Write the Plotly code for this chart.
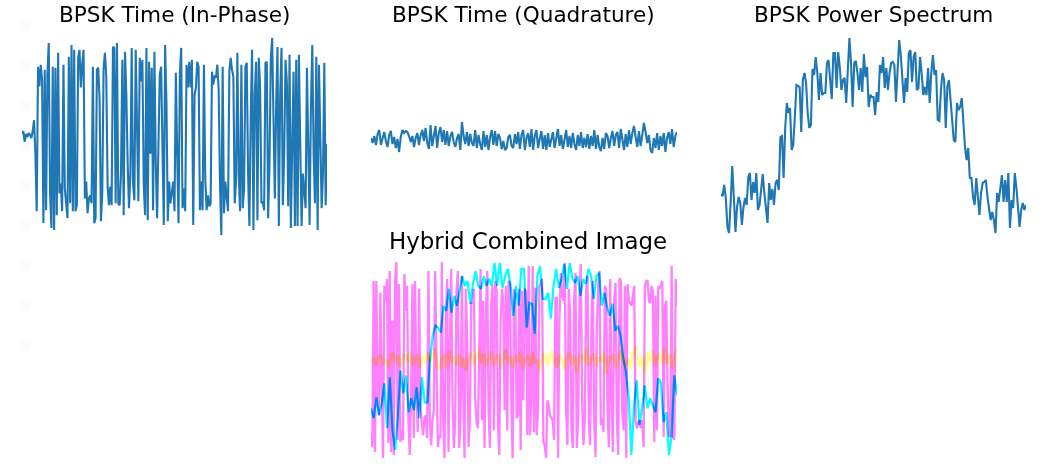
import plotly.graph_objects as go

WIDTH = 1047
HEIGHT = 466

TITLES = [
    "BPSK Time (In-Phase)",
    "BPSK Time (Quadrature)",
    "BPSK Power Spectrum",
    "Hybrid Combined Image",
]

in_phase = [
    0, 3, -8, 0, -3, 1, -1, -4, 3, 14, -20, -78, 68, 48, 70, 55, -90, 65, -77, 60,
    92, -60, -95, 68, -97, 67, -82, 82, -60, -50, -78, 70, -55, -75, -85, 78, -70, 90, -78, 85,
    -78, -72, 77, 85, 47, 70, 85, -65, -48, -80, -65, -62, -70, 68, -90, -85, 65, 67, 35, -88,
    -60, 67, 82, 58, -53, -72, -53, -72, 88, 87, -70, 92, -70, -72, -40, 75, -82, 83, 40, -30,
    -75, -40, 87, -50, -67, 85, -10, -68, 77, 53, 75, -50, -82, 87, -87, 73, -20, 67, -77, 83,
    -30, -85, -10, 60, 68, -40, -92, 90, 30, -88, -48, -70, -55, -48, -78, 62, -20, -90, 60, 87,
    -75, -55, -78, 70, 47, 73, 47, 75, -92, 40, 47, 73, 68, -77, -48, -77, 70, -45, -77, -62,
    -73, -70, 63, 50, 58, 57, 70, 45, -50, -102, 68, -80, -48, -60, -78, 63, 77, 65, 58, -70,
    -48, 82, -40, -78, 70, -75, -55, 68, 72, -40, -93, 20, 85, -97, 40, 73, -87, 77, 48, -70,
    -68, -77, 72, 73, -85, -30, 77, 97, 10, -65, 30, 88, -93, 40, 87, -72, -20, 75, 52, -73,
    80, -95, -10, 63, -93, 75, -93, 80, -10, -93, -40, -58, -75, 67, -20, -92, 30, 90, -20, -70,
    78, -97, 70, -30, -75, -40, 72, -72, -10,
]

quadrature = [
    -3, -8, -1, -10, 1, 5, -10, -2, 3, -6, -12, 0, 4, -9, -2, -13, -4, -17, -2, 5,
    2, 4, 3, -1, -7, -1, -12, -3, 2, -10, 0, 5, -6, 7, -8, -14, 10, -11, -1, 9,
    -13, 2, 8, -7, 5, -10, 4, -11, -1, 3, -7, -12, -3, 1, -15, 13, -1, -9, 3, -11,
    1, -8, -11, 5, -13, 0, -9, -15, 4, -12, 0, -15, -2, 5, -10, 4, -11, 1, -3, -14,
    -6, -15, -13, -2, 0, -11, -13, 1, -9, 3, -14, 0, 5, -15, -3, 2, -12, 6, -15, -1,
    5, -13, -4, 4, -14, 0, -15, 2, -12, -3, 3, -13, -1, 6, -11, 0, -14, -3, 5, -12,
    -1, -13, 2, -9, -15, 0, -11, 3, -13, -3, -12, 1, -14, -1, -11, 5, -14, 0, -12, -16,
    -3, -14, 2, -1, -13, -3, 4, -11, 0, 3, -13, 6, -3, -15, 1, -12, 5, -9, 2, 9,
    -2, -12, 4, -11, 0, 12, 3, -8, 0, -15, -18, -3, -13, 2, -15, -1, -11, 2, -17, -3,
    3, -9, 6, -12, -1, 3,
]

spectrum = [
    -59, -61, -50, -63, -92, -98, -68, -31, -62, -97, -72, -62, -68, -90, -72, -63, -70, -42, -38, -65,
    -47, -58, -38, -75, -70, -52, -39, -58, -72, -88, -48, -65, -54, -70, -48, -45, -55, -2, -1, -43,
    7, 32, 22, 27, -15, -10, 18, 50, 49, 48, 3, 55, 62, 52, 22, 7, 10, 66, 60, 78,
    62, 35, 62, 40, 42, 42, 72, 75, 55, 36, 82, 82, 47, 83, 68, 45, 55, 57, 32, 72,
    97, 72, 28, 72, 74, 62, 45, 67, 43, 81, 58, 68, 28, 40,
    38, 38, 20, 43, 33, 70, 62, 78, 47, 67, 45, 62, 72, 73, 70, 33, 68, 95, 80, 52,
    32, 57, 43, 82, 85, 53, 78, 83, 45, 47, 78, 62, 40, 48, 40, 67, 32, 62, 80, 60,
    65, 15, 14, 45, 62, 55, 7, 48, 55, 35, 15, -5, -7, 32, 25, 28, 37, 8, -12, -25,
    -13, -43, -43, -62, -70, -43, -62, -80, -58, -48, -47, -45, -62, -73, -85, -77, -85, -98, -58, -67,
    -52, -40, -67, -45, -67, -38, -93, -65, -73, -38, -52, -72, -92, -75, -68, -75, -70,
]

hybrid_in_phase = [
    -73, -87, 80, -92, 80, -40, -55, 68, -20, -98, 75, 60, 82, -83, 90, -92, 40, -95, 80, 99,
    -80, 77, -82, -70, -80, 87, 50, 75, -60, -95, -40, 77, -78, 80, -30, -72, 72, -45, -62, -75,
    -58, -55, -78, 90, -58, -85, -60, -50, 90, 20, -87, -75, -78, 99, -60, -98, 40, 82, -92, 10,
    92, -40, -88, -60, 70, 90, -88, -60, 85, -30, -98, 72, 20, -87, -60, 58, 58, 72, -40, -62,
    -68, 10, 92, -60, 60, -88, 50, 90, -50, -88, 60, 75, -70, 80, 70, -65, -95, 40, 72, 60,
    -50, 75, -70, 80, 78, -40, -100, 72, 65, -58, -55, 72, -90, 70, -40, 72,
    70, -75, 95, -75, -40, 95, -72, 73, -75, -50, 75, 78, 82, -82, -85, -98, -40, -45, -55, -58,
    -60, -80, 63, 63, -98, 40, 88, 65, 60, 98, -50, -85, 72, 50, -70, -88, 60, 88, -88, -60,
    60, 97, -40, -85, -60, 70, 85, -60, -85, 40, 80, -60, -97, 30, 75, 90, -65, -58, -72, 75,
    72, -50, -87, 82, -40, -92, 60, 78, -60, -95, 83, 80, -50, -70, 75, -98, 77, 60, 58, 55,
    65, 75, -62, -68, -62, -60, -68, -60, -87, 75, 80, 80, 60, 58, 75, 70, -82, 65, -70, 75,
    72, 75, 80, -77, 55, 60, -30, -75, -77, 95, -77, -80, 82, 55,
]

hybrid_quadrature = [
    -2, 3, -5, 2, 6, -4, 1, -7, 3, 8, -3, 5, -6, 2, 7, -2, 9, -5, 1, 6,
    -7, 3, -3, 8, -1, 4, 12, -6, -9, 2, 6, -8, 10, -2, 4, -5, 7, -7, 3, -10,
    2, 8, -4, 5, 12, -3, 7, -6, 1, 9, -5, 3, 6, -8, 2, 11, -3, 4, -7, 5,
    -2, 9, -9, 2, 5, -6, 8, -3, 1, -11, 4, 7, -5, 2, 10, -2, -7, 6, 1, -9,
    3, 8, -4, 5, -12, 2, 6, -3, 13, -5, 1, 7, -6, 3, -2, 9, -14, 4, 1, 6,
    -8, 2, 11, -1, -5, 3, -9, 7, 14, -2, -6, 5, -13, 8, -1, 10, -5, 3, 7, -4,
    13, -3, 6, -8, 4, 12,
]

hybrid_spectrum = [
    -48, -58, -37, -55, -43, -23, -68, -17, -70, -90, -55, -10, -33, -15, -52, -38, -50, -27, -58, -17,
    -42, -42, 2, 25, 35, 33, 28, 55, 50, 72, 48, 65, 55, 70, 85, 75, 80, 57, 77, 90,
    75, 72, 85, 75, 82, 75, 98, 75, 98, 73, 85, 92, 75, 45, 75, 55, 92, 92, 33, 58,
    57, 27, 85, 95, 62, 62, 68, 42, 75, 92, 73, 82, 97, 72, 98, 83, 78, 85, 65, 82,
    77, 92, 85, 62, 85, 88, 55, 68, 53, 45, 57, 30, 35, 25, 2, -12, -38, -95, -45, -20,
    -65, -48, -25, -48, -38, -45, -52, -18, -22, -62, -52, -95, -75, -15, -35,
]

panels = [
    (in_phase, 22, 327, 38, 235, [-102, 97]),
    (quadrature, 371, 677, 38, 235, [-100, 97]),
    (spectrum, 721, 1026, 38, 235, [-100, 97]),
]


def x_domain(left, right):
    return [left / WIDTH, right / WIDTH]


def y_domain(top, bottom):
    return [1 - bottom / HEIGHT, 1 - top / HEIGHT]


def add_axes(fig, idx, x_dom, y_dom, y_range):
    hidden = dict(visible=False, showgrid=False, zeroline=False, fixedrange=True)
    fig.layout[f"xaxis{idx}"] = dict(domain=x_dom, range=[0, 1], anchor=f"y{idx}", **hidden)
    fig.layout[f"yaxis{idx}"] = dict(domain=y_dom, range=y_range, anchor=f"x{idx}", **hidden)


def add_line(fig, idx, values, color, width):
    fig.add_trace(go.Scatter(
        x=[i / (len(values) - 1) for i in range(len(values))],
        y=values,
        mode="lines",
        line=dict(color=color, width=width),
        cliponaxis=False,
        hoverinfo="skip",
        xaxis=f"x{idx}",
        yaxis=f"y{idx}",
    ))


fig = go.Figure()

for n, (values, left, right, top, bottom, y_range) in enumerate(panels, start=1):
    add_axes(fig, n, x_domain(left, right), y_domain(top, bottom), y_range)
    add_line(fig, n, values, "#1f77b4", 2.1)

add_axes(fig, 4, x_domain(371, 677), y_domain(262, 458), [-98, 99])
add_line(fig, 4, hybrid_in_phase, "#ff80ff", 2.3)
add_line(fig, 4, hybrid_quadrature, "#ffffa0", 3.5)
add_line(fig, 4, hybrid_spectrum, "#00ffff", 2.2)

title_spots = [(174.5, 15, 21.6), (523.5, 15, 21.6), (873, 15, 21.6), (528, 241, 22.9)]
for text, (cx, cy, size) in zip(TITLES, title_spots):
    fig.add_annotation(
        text=text, x=cx / WIDTH, y=1 - cy / HEIGHT, xref="paper", yref="paper",
        showarrow=False, xanchor="center", yanchor="middle",
        font=dict(family="DejaVu Sans", size=size, color="#000000"),
    )

# faint ghost squares down the left edge of the picture
for cy in range(25, 346, 40):
    fig.add_shape(
        type="rect", xref="paper", yref="paper", layer="below", line_width=0,
        x0=20 / WIDTH, x1=30 / WIDTH, y0=1 - (cy + 5) / HEIGHT, y1=1 - (cy - 5) / HEIGHT,
        fillcolor="#fcfcfc",
    )

fig.update_layout(
    width=WIDTH,
    height=HEIGHT,
    margin=dict(l=0, r=0, t=0, b=0),
    paper_bgcolor="#ffffff",
    plot_bgcolor="rgba(0,0,0,0)",
    showlegend=False,
)

# channels of the combined image multiply, so the overlaps go blue and salmon;
# the image was also resampled, hence the slight softening
BLEND_JS = """
document.body.style.margin = '0';
document.querySelectorAll('.subplot.x4y4 .trace').forEach(function (el) {
    el.style.mixBlendMode = 'multiply';
});
document.querySelectorAll('.subplot.x4y4 .plot').forEach(function (el) {
    el.style.filter = 'blur(0.6px)';
});
"""

fig.write_html("out.html", post_script=BLEND_JS, config={"displayModeBar": False})
